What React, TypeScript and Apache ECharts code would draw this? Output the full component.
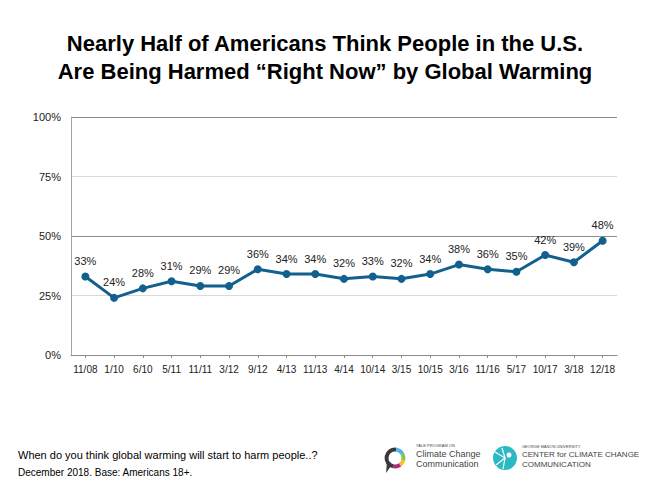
import React, { useEffect, useRef } from "react";
import * as echarts from "echarts";

const categories = ["11/08","1/10","6/10","5/11","11/11","3/12","9/12","4/13","11/13","4/14","10/14","3/15","10/15","3/16","11/16","5/17","10/17","3/18","12/18"];
const values = [33, 24, 28, 31, 29, 29, 36, 34, 34, 32, 33, 32, 34, 38, 36, 35, 42, 39, 48];
const yTicks = [0, 25, 50, 75, 100];
const titleLines = ["Nearly Half of Americans Think People in the U.S.", "Are Being Harmed \u201cRight Now\u201d by Global Warming"];
const footnotes = ["When do you think global warming will start to harm people..?", "December 2018. Base: Americans 18+."];

export default function App() {
  const ref = useRef<HTMLDivElement>(null);
  useEffect(() => {
    const chart = echarts.init(ref.current!, null, { renderer: "svg" });
    const font = "'Liberation Sans', Arial, sans-serif";
    chart.setOption({
      animation: false,
      backgroundColor: "#ffffff",
      textStyle: { fontFamily: font },
      title: {
        text: titleLines.join("\n"),
        left: "center",
        top: 24,
        textStyle: { fontSize: 22, fontWeight: "bold", color: "#000", lineHeight: 28, fontFamily: font },
      },
      grid: { left: 71, right: 33, top: 117, bottom: 132 },
      xAxis: {
        type: "category",
        data: categories,
        boundaryGap: true,
        axisLine: { lineStyle: { color: "#8c8c8c", width: 1 } },
        axisTick: { show: true, alignWithLabel: true, length: 3, lineStyle: { color: "#8c8c8c" } },
        axisLabel: { color: "#222", fontSize: 10, margin: 9, interval: 0 },
      },
      yAxis: {
        type: "value",
        min: 0,
        max: 100,
        interval: 25,
        axisLine: { show: true, lineStyle: { color: "#a6a6a6" } },
        axisTick: { show: false },
        axisLabel: { color: "#222", fontSize: 11, margin: 10, formatter: (v: number) => (yTicks.includes(v) ? v + "%" : "") },
        splitLine: { show: true, lineStyle: { color: ["#8c8c8c", "#d9d9d9", "#8c8c8c", "#d9d9d9", "#8c8c8c"], width: 1 } },
      },
      series: [
        {
          type: "line",
          data: values,
          symbol: "circle",
          symbolSize: 8,
          lineStyle: { color: "#11608e", width: 3 },
          itemStyle: { color: "#11608e" },
          label: { show: true, position: "top", distance: 6, formatter: "{c}%", color: "#222", fontSize: 11 },
        },
      ],
      graphic: [
        { type: "text", left: 18, top: 449, style: { text: footnotes[0], fontSize: 11, fill: "#000", fontFamily: font } },
        { type: "text", left: 18, top: 467, style: { text: footnotes[1], fontSize: 10, fill: "#000", fontFamily: font } },
        // Yale logo ring
        { type: "arc", shape: { cx: 395, cy: 458, r: 8.5, startAngle: Math.PI * 0.55, endAngle: Math.PI * 1.55 }, style: { stroke: "#3a3a3a", lineWidth: 4, fill: "none" } },
        { type: "arc", shape: { cx: 395, cy: 458, r: 8.5, startAngle: Math.PI * 1.55, endAngle: Math.PI * 1.85 }, style: { stroke: "#4fb8e8", lineWidth: 4, fill: "none" } },
        { type: "arc", shape: { cx: 395, cy: 458, r: 8.5, startAngle: Math.PI * 1.85, endAngle: Math.PI * 2.1 }, style: { stroke: "#8cc63f", lineWidth: 4, fill: "none" } },
        { type: "arc", shape: { cx: 395, cy: 458, r: 8.5, startAngle: Math.PI * 0.1, endAngle: Math.PI * 0.3 }, style: { stroke: "#f5c12e", lineWidth: 4, fill: "none" } },
        { type: "arc", shape: { cx: 395, cy: 458, r: 8.5, startAngle: Math.PI * 0.3, endAngle: Math.PI * 0.55 }, style: { stroke: "#b5247a", lineWidth: 4, fill: "none" } },
        { type: "polygon", shape: { points: [[387, 462], [391, 466], [386, 473]] }, style: { fill: "#3a3a3a" } },
        { type: "text", left: 416, top: 443, style: { text: "YALE PROGRAM ON", fontSize: 4, fill: "#444", fontFamily: font } },
        { type: "text", left: 416, top: 449, style: { text: "Climate Change", fontSize: 9, fill: "#444", fontFamily: font } },
        { type: "text", left: 416, top: 459, style: { text: "Communication", fontSize: 9, fill: "#444", fontFamily: font } },
        // GMU logo shell
        { type: "circle", shape: { cx: 505, cy: 458, r: 12 }, style: { fill: "#2bb9c3" } },
        { type: "polyline", shape: { points: [[495, 452], [505, 458], [496, 465]] }, style: { stroke: "#fff", lineWidth: 1.2, fill: "none" } },
        { type: "polyline", shape: { points: [[502, 448], [505, 458], [503, 469]] }, style: { stroke: "#fff", lineWidth: 1.2, fill: "none" } },
        { type: "circle", shape: { cx: 509, cy: 455, r: 2.5 }, style: { fill: "#fff" } },
        { type: "text", left: 522, top: 444, style: { text: "GEORGE MASON UNIVERSITY", fontSize: 4, fill: "#444", fontFamily: font } },
        { type: "text", left: 522, top: 450, style: { text: "CENTER for CLIMATE CHANGE", fontSize: 8, fill: "#444", fontFamily: font } },
        { type: "text", left: 522, top: 460, style: { text: "COMMUNICATION", fontSize: 8, fill: "#444", fontFamily: font } },
      ],
    });
    return () => chart.dispose();
  }, []);
  return <div ref={ref} style={{ position: "fixed", left: 0, top: 0, width: 650, height: 487 }} />;
}
